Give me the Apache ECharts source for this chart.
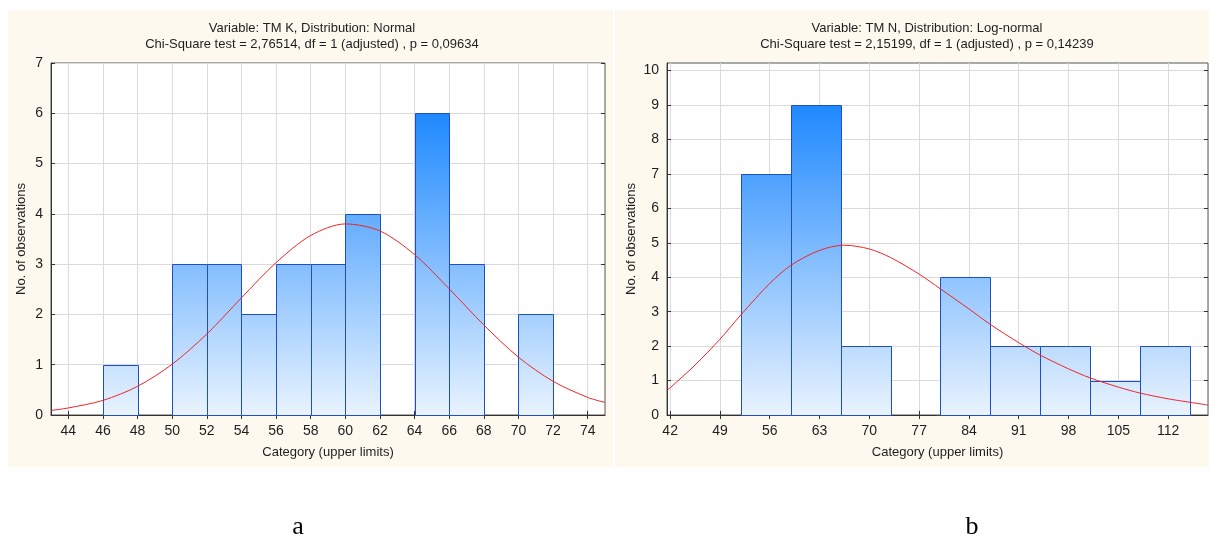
<!DOCTYPE html>
<html>
<head>
<meta charset="utf-8">
<script src="https://cdn.jsdelivr.net/npm/echarts@6/dist/echarts.min.js"></script>
<style>
html, body { margin: 0; padding: 0; background: #fff; }
#chart { width: 1209px; height: 538px; }
</style>
</head>
<body>
<div id="chart"></div>
<script>
// panel a - TM K, normal fit
var kLower = [46, 48, 50, 52, 54, 56, 58, 60, 62, 64, 66, 68, 70];
var kUpper = [48, 50, 52, 54, 56, 58, 60, 62, 64, 66, 68, 70, 72];
var kCounts = [1, 0, 3, 3, 2, 3, 3, 4, 0, 6, 3, 0, 2];
var kTicks = [44, 46, 48, 50, 52, 54, 56, 58, 60, 62, 64, 66, 68, 70, 72, 74];
var kCurveX = [43, 44, 46, 48, 50, 52, 54, 56, 58, 60, 62, 64, 66, 68, 70, 72, 74, 75];
var kCurveY = [0.09, 0.14, 0.29, 0.57, 1.01, 1.61, 2.33, 3.03, 3.57, 3.80, 3.66, 3.19, 2.51, 1.79, 1.15, 0.67, 0.35, 0.25];

// panel b - TM N, log-normal fit
var nLower = [52, 59, 66, 73, 80, 87, 94, 101, 108];
var nUpper = [59, 66, 73, 80, 87, 94, 101, 108, 115];
var nCounts = [7, 9, 2, 0, 4, 2, 2, 1, 2];
var nTicks = [42, 49, 56, 63, 70, 77, 84, 91, 98, 105, 112];
var nCurveX = [41.6, 42, 45.5, 49, 52, 56, 59, 63, 66.5, 70, 73, 77, 80, 84, 87, 91, 94, 98, 101, 105, 108, 112, 117.6];
var nCurveY = [0.73, 0.79, 1.45, 2.2, 2.92, 3.82, 4.35, 4.78, 4.93, 4.82, 4.57, 4.09, 3.66, 3.08, 2.63, 2.10, 1.74, 1.34, 1.08, 0.81, 0.64, 0.47, 0.29];

var yTicksK = [0, 1, 2, 3, 4, 5, 6, 7];
var yTicksN = [0, 1, 2, 3, 4, 5, 6, 7, 8, 9, 10];

var titleK = ['Variable: TM K, Distribution: Normal', 'Chi-Square test = 2,76514, df = 1 (adjusted) , p = 0,09634'];
var titleN = ['Variable: TM N, Distribution: Log-normal', 'Chi-Square test = 2,15199, df = 1 (adjusted) , p = 0,14239'];

var FONT = "'Liberation Sans Narrow', 'Liberation Sans', Arial, sans-serif";
var TXT = '#1e1e1e';

function zip(a, b) {
  return a.map(function (v, i) { return [v, b[i]]; });
}

function bins(lo, hi, n) {
  return lo.map(function (v, i) { return [v, hi[i], n[i]]; });
}

function histItem(maxCount) {
  return function (params, api) {
    var lo = api.value(0), hi = api.value(1), n = api.value(2);
    if (!n) return;
    var p0 = api.coord([lo, n]);
    var p1 = api.coord([hi, 0]);
    var top = api.coord([lo, maxCount])[1];
    var x0 = Math.round(p0[0]) + 0.5, x1 = Math.round(p1[0]) + 0.5;
    var y0 = Math.round(p0[1]) + 0.5, y1 = Math.round(p1[1]) + 0.5;
    return {
      type: 'rect',
      shape: { x: x0, y: y0, width: x1 - x0, height: y1 - y0 },
      style: {
        fill: new echarts.graphic.LinearGradient(0, p1[1], 0, top, [
          { offset: 0, color: '#e9f3fe' },
          { offset: 1, color: '#1f89ff' }
        ], true),
        stroke: '#1d50c8',
        lineWidth: 1
      }
    };
  };
}

function mainX(grid, min, max, ticks) {
  return {
    type: 'value', gridIndex: grid, min: min, max: max,
    name: 'Category (upper limits)', nameLocation: 'middle', nameGap: 31,
    nameTextStyle: { fontFamily: FONT, fontSize: 13, color: TXT },
    axisLine: { show: true, lineStyle: { color: '#333' } },
    axisTick: { show: true, inside: true, length: 4, customValues: ticks, lineStyle: { color: '#333' } },
    axisLabel: { customValues: ticks, margin: 9, fontFamily: FONT, fontSize: 14, color: TXT },
    splitLine: { show: true, lineStyle: { color: '#dadada' } }
  };
}

function topX(grid, min, max, ticks) {
  return {
    type: 'value', gridIndex: grid, min: min, max: max, position: 'top',
    axisLine: { show: false },
    axisTick: { show: true, inside: true, length: 4, customValues: ticks, lineStyle: { color: '#333' } },
    axisLabel: { show: false },
    splitLine: { show: false }
  };
}

function mainY(grid, max, ticks, gap) {
  return {
    type: 'value', gridIndex: grid, min: 0, max: max, interval: 1,
    name: 'No. of observations', nameLocation: 'middle', nameGap: gap,
    nameTextStyle: { fontFamily: FONT, fontSize: 13, color: TXT },
    axisLine: { show: true, lineStyle: { color: '#333' } },
    axisTick: { show: true, inside: true, length: 4, customValues: ticks, lineStyle: { color: '#333' } },
    axisLabel: { customValues: ticks, margin: 8, fontFamily: FONT, fontSize: 14, color: TXT },
    splitLine: { show: true, lineStyle: { color: '#dadada' } }
  };
}

function rightY(grid, max, ticks) {
  return {
    type: 'value', gridIndex: grid, min: 0, max: max, interval: 1, position: 'right',
    axisLine: { show: false },
    axisTick: { show: true, inside: true, length: 4, customValues: ticks, lineStyle: { color: '#333' } },
    axisLabel: { show: false },
    splitLine: { show: false }
  };
}

function curve(xi, yi, data) {
  return {
    type: 'line', xAxisIndex: xi, yAxisIndex: yi, data: data,
    smooth: 0.3, showSymbol: false, silent: true, z: 5,
    lineStyle: { color: '#f02424', width: 1 }
  };
}

var chart = echarts.init(document.getElementById('chart'));

chart.setOption({
  animation: false,
  backgroundColor: '#fff',
  graphic: [
    { type: 'rect', z: -100, shape: { x: 8, y: 10, width: 605, height: 457 }, style: { fill: '#fdf9ee' } },
    { type: 'rect', z: -100, shape: { x: 615, y: 10, width: 594, height: 457 }, style: { fill: '#fdf9ee' } },
    { type: 'text', x: 312, y: 20, style: { text: titleK.join('\n'), textAlign: 'center', font: '13px ' + FONT, fill: TXT, lineHeight: 16 } },
    { type: 'text', x: 927, y: 20, style: { text: titleN.join('\n'), textAlign: 'center', font: '13px ' + FONT, fill: TXT, lineHeight: 16 } },
    { type: 'text', x: 298, y: 527, style: { text: 'a', textAlign: 'center', textVerticalAlign: 'middle', font: "26px 'Liberation Serif', 'Times New Roman', serif", fill: '#000' } },
    { type: 'text', x: 972, y: 527, style: { text: 'b', textAlign: 'center', textVerticalAlign: 'middle', font: "26px 'Liberation Serif', 'Times New Roman', serif", fill: '#000' } }
  ],
  grid: [
    { left: 51, top: 63, width: 554, height: 352, show: true, backgroundColor: '#fff', borderColor: '#555', borderWidth: 1 },
    { left: 667, top: 63, width: 541, height: 352, show: true, backgroundColor: '#fff', borderColor: '#555', borderWidth: 1 }
  ],
  xAxis: [
    mainX(0, 43, 75, kTicks),
    topX(0, 43, 75, kTicks),
    mainX(1, 41.56, 117.6, nTicks),
    topX(1, 41.56, 117.6, nTicks)
  ],
  yAxis: [
    mainY(0, 7, yTicksK, 23),
    rightY(0, 7, yTicksK),
    mainY(1, 10.22, yTicksN, 29),
    rightY(1, 10.22, yTicksN)
  ],
  series: [
    {
      type: 'custom', xAxisIndex: 0, yAxisIndex: 0, z: 3,
      renderItem: histItem(6),
      encode: { x: [0, 1], y: 2 },
      data: bins(kLower, kUpper, kCounts)
    },
    curve(0, 0, zip(kCurveX, kCurveY)),
    {
      type: 'custom', xAxisIndex: 2, yAxisIndex: 2, z: 3,
      renderItem: histItem(9),
      encode: { x: [0, 1], y: 2 },
      data: bins(nLower, nUpper, nCounts)
    },
    curve(2, 2, zip(nCurveX, nCurveY))
  ]
});
</script>
</body>
</html>
